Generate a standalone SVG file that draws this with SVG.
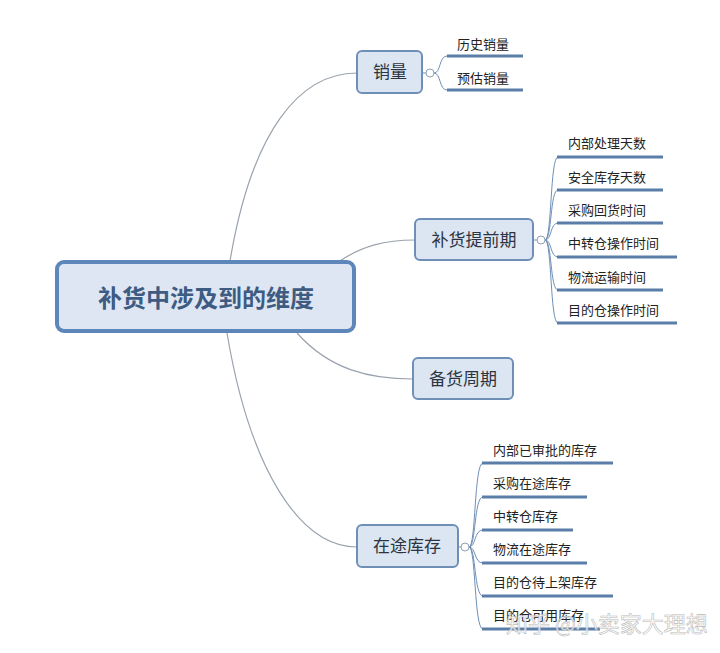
<svg xmlns="http://www.w3.org/2000/svg" width="720" height="653" viewBox="0 0 720 653">
<style>
text{font-family:"Noto Sans CJK SC","Noto Sans",sans-serif;}
.node{fill:#dce6f2;stroke:#6f8fb6;stroke-width:2;}
.root{fill:#dde6f2;stroke:#5d86bb;stroke-width:4;}
.nt{font-size:17px;fill:#2b3440;text-anchor:middle;}
.rt{font-size:24px;font-weight:bold;fill:#3e5b82;text-anchor:middle;}
.lt{font-size:13px;fill:#222;}
.ul{stroke:#5b7ea8;stroke-width:3;fill:none;}
.c{stroke:#9aa3ad;stroke-width:1.2;fill:none;}
.b{stroke:#6f8fb6;stroke-width:1;fill:none;}
.tog{fill:#fff;stroke:#8fa0b3;stroke-width:1;}
.wm{font-size:22px;fill:#fff;stroke:#b0b0b0;stroke-width:0.6;opacity:0.85;}
</style>
<rect width="720" height="653" fill="#fff"/>
<g id="connectors">
<path class="c" d="M230,261 C252,130 300,73 357,73"/>
<path class="c" d="M340,261 C362,246 385,240 415,240"/>
<path class="c" d="M297,333 C330,370 370,379 413,379"/>
<path class="c" d="M227,333 C250,470 300,547 357,547"/>
<path class="b" d="M422,73 L426,73"/>
<path class="b" d="M434,73 C441,73 439,56 447,56"/>
<path class="b" d="M434,73 C441,73 439,90 447,90"/>
<path class="b" d="M533,240 L537,240"/>
<path class="b" d="M545,240 C552,240 550,157 558,157"/>
<path class="b" d="M545,240 C552,240 550,190 558,190"/>
<path class="b" d="M545,240 C552,240 550,223 558,223"/>
<path class="b" d="M545,240 C552,240 550,257 558,257"/>
<path class="b" d="M545,240 C552,240 550,290 558,290"/>
<path class="b" d="M545,240 C552,240 550,323 558,323"/>
<path class="b" d="M458,547 L461,547"/>
<path class="b" d="M469,547 C476,547 474,463 483,463"/>
<path class="b" d="M469,547 C476,547 474,497 483,497"/>
<path class="b" d="M469,547 C476,547 474,530 483,530"/>
<path class="b" d="M469,547 C476,547 474,563 483,563"/>
<path class="b" d="M469,547 C476,547 474,596 483,596"/>
<path class="b" d="M469,547 C476,547 474,629 483,629"/>
</g>
<g id="root">
<rect class="root" x="57" y="262" width="297" height="69" rx="7"/>
<text class="rt" x="206" y="307">补货中涉及到的维度</text>
</g>
<g id="n-xiaoliang">
<rect class="node" x="357" y="51" width="65" height="42" rx="5"/>
<text class="nt" x="390" y="78">销量</text>
<circle class="tog" cx="430" cy="73" r="4"/>
</g>
<g id="n-xiaoliang-children">
<text class="lt" x="457" y="49">历史销量</text>
<path class="ul" d="M447,56 L523,56"/>
<text class="lt" x="457" y="83">预估销量</text>
<path class="ul" d="M447,90 L523,90"/>
</g>
<g id="n-tiqianqi">
<rect class="node" x="415" y="219" width="118" height="41" rx="5"/>
<text class="nt" x="474" y="246">补货提前期</text>
<circle class="tog" cx="541" cy="240" r="4"/>
</g>
<g id="n-tiqianqi-children">
<text class="lt" x="568" y="148">内部处理天数</text>
<path class="ul" d="M557,157 L663,157"/>
<text class="lt" x="568" y="182">安全库存天数</text>
<path class="ul" d="M557,190 L663,190"/>
<text class="lt" x="568" y="215">采购回货时间</text>
<path class="ul" d="M557,223 L663,223"/>
<text class="lt" x="568" y="248">中转仓操作时间</text>
<path class="ul" d="M557,257 L677,257"/>
<text class="lt" x="568" y="282">物流运输时间</text>
<path class="ul" d="M557,290 L663,290"/>
<text class="lt" x="568" y="315">目的仓操作时间</text>
<path class="ul" d="M557,323 L677,323"/>
</g>
<g id="n-beihuo">
<rect class="node" x="413" y="358" width="100" height="41" rx="5"/>
<text class="nt" x="463" y="385">备货周期</text>
</g>
<g id="n-zaitu">
<rect class="node" x="357" y="525" width="101" height="42" rx="5"/>
<text class="nt" x="407" y="552">在途库存</text>
<circle class="tog" cx="465" cy="547" r="4"/>
</g>
<g id="n-zaitu-children">
<text class="lt" x="493" y="455">内部已审批的库存</text>
<path class="ul" d="M482,463 L613,463"/>
<text class="lt" x="493" y="488">采购在途库存</text>
<path class="ul" d="M482,497 L587,497"/>
<text class="lt" x="493" y="521">中转仓库存</text>
<path class="ul" d="M482,530 L573,530"/>
<text class="lt" x="493" y="554">物流在途库存</text>
<path class="ul" d="M482,563 L587,563"/>
<text class="lt" x="493" y="587">目的仓待上架库存</text>
<path class="ul" d="M482,596 L613,596"/>
<text class="lt" x="493" y="620">目的仓可用库存</text>
<path class="ul" d="M482,629 L600,629"/>
</g>
<text class="wm" x="506" y="632">知乎 @小卖家大理想</text>
</svg>
